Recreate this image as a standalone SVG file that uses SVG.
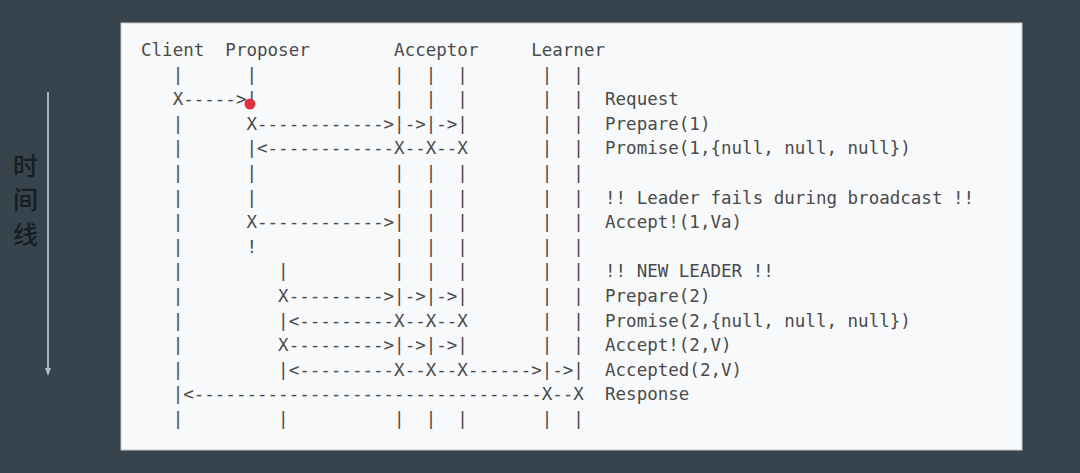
<svg xmlns="http://www.w3.org/2000/svg" width="1080" height="473" viewBox="0 0 1080 473">
<defs>
<style>
.t{font-family:"DejaVu Sans Mono","Liberation Mono",monospace;font-size:17.52px;fill:#4a4a4a;white-space:pre}
.cjk{font-family:"Noto Sans CJK SC","Noto Sans",sans-serif;font-size:25px;font-weight:500;fill:#161d24}
</style>
<marker id="ah" markerWidth="8" markerHeight="8" refX="4" refY="4" orient="auto" markerUnits="userSpaceOnUse">
<path d="M0,1 L8,4 L0,7 Z" fill="#b4bcc2"/>
</marker>
</defs>
<rect width="1080" height="473" fill="#37434d"/>
<g id="timeline">
<line x1="48" y1="92" x2="48" y2="372" stroke="#a9b2b9" stroke-width="2" marker-end="url(#ah)"/>
<text class="cjk" x="13" y="175">时</text>
<text class="cjk" x="13" y="209">间</text>
<text class="cjk" x="13" y="244">线</text>
</g>
<g id="panel">
<rect x="121" y="23" width="901" height="427" fill="#f8f9fb" stroke="#c8cacc" stroke-width="1"/>
</g>
<g id="ascii" xml:space="preserve">
<text class="t" x="141" y="56">Client  Proposer        Acceptor     Learner</text>
<text class="t" x="141" y="80.6">   |      |             |  |  |       |  |</text>
<text class="t" x="141" y="105.2">   X-----&gt;|             |  |  |       |  |  Request</text>
<text class="t" x="141" y="129.8">   |      X------------&gt;|-&gt;|-&gt;|       |  |  Prepare(1)</text>
<text class="t" x="141" y="154.4">   |      |&lt;------------X--X--X       |  |  Promise(1,{null, null, null})</text>
<text class="t" x="141" y="179">   |      |             |  |  |       |  |</text>
<text class="t" x="141" y="203.6">   |      |             |  |  |       |  |  !! Leader fails during broadcast !!</text>
<text class="t" x="141" y="228.2">   |      X------------&gt;|  |  |       |  |  Accept!(1,Va)</text>
<text class="t" x="141" y="252.8">   |      !             |  |  |       |  |</text>
<text class="t" x="141" y="277.4">   |         |          |  |  |       |  |  !! NEW LEADER !!</text>
<text class="t" x="141" y="302">   |         X---------&gt;|-&gt;|-&gt;|       |  |  Prepare(2)</text>
<text class="t" x="141" y="326.6">   |         |&lt;---------X--X--X       |  |  Promise(2,{null, null, null})</text>
<text class="t" x="141" y="351.2">   |         X---------&gt;|-&gt;|-&gt;|       |  |  Accept!(2,V)</text>
<text class="t" x="141" y="375.8">   |         |&lt;---------X--X--X------&gt;|-&gt;|  Accepted(2,V)</text>
<text class="t" x="141" y="400.4">   |&lt;---------------------------------X--X  Response</text>
<text class="t" x="141" y="425">   |         |          |  |  |       |  |</text>
</g>
<g id="marker-dot">
<circle cx="250" cy="104" r="5.5" fill="#e0303f"/>
</g>
</svg>
